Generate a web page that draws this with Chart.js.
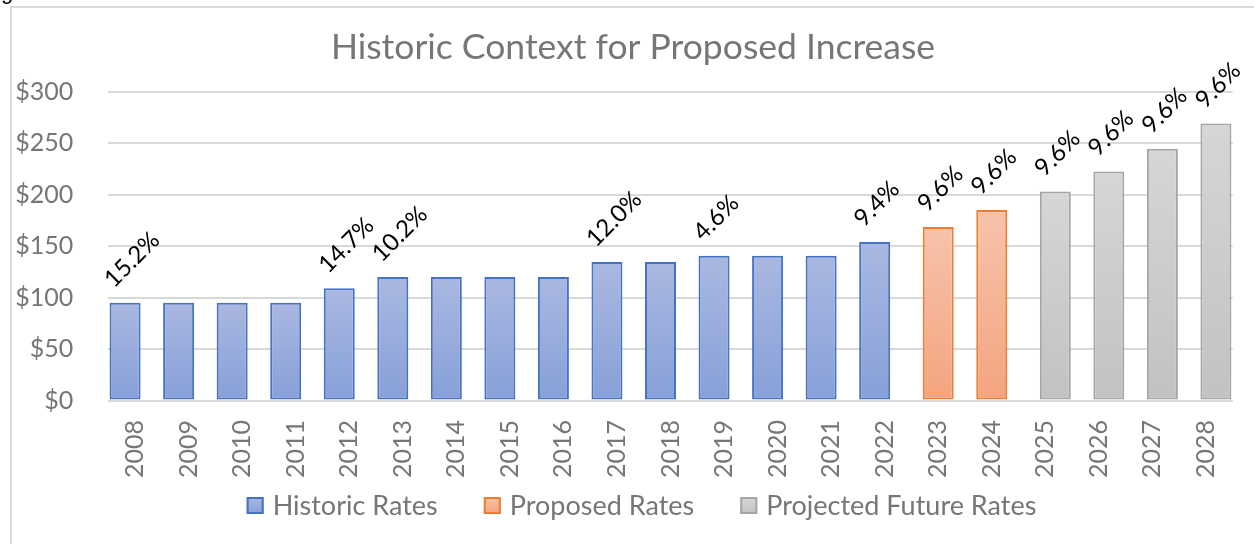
<!DOCTYPE html>
<html><head><meta charset="utf-8">
<script src="https://cdn.jsdelivr.net/npm/chart.js@4.4.0/dist/chart.umd.min.js"></script>
<style>html,body{margin:0;padding:0;background:#fff;overflow:hidden}#wrap{position:absolute;left:0;top:0;width:1254px;height:544px}</style>
</head><body><div id="wrap"><canvas id="c" width="1254" height="544"></canvas></div>
<script>
const years = ['2008','2009','2010','2011','2012','2013','2014','2015','2016','2017','2018','2019','2020','2021','2022','2023','2024','2025','2026','2027','2028'];
const historicRates = [95,95,95,95,109,120,120,120,120,134.5,134.5,140.5,140.5,140.5,154,null,null,null,null,null,null];
const proposedRates = [null,null,null,null,null,null,null,null,null,null,null,null,null,null,null,168.5,185,null,null,null,null];
const projectedRates = [null,null,null,null,null,null,null,null,null,null,null,null,null,null,null,null,null,203,222.5,244.5,269];
const increaseLabels = ['15.2%','','','','14.7%','10.2%','','','','12.0%','','4.6%','','','9.4%','9.6%','9.6%','9.6%','9.6%','9.6%','9.6%'];
const seriesNames = ['Historic Rates','Proposed Rates','Projected Future Rates'];
const yMax = 300, yStep = 50;

const palette = [
  {top:'#aab8e1', bottom:'#87a0d8', border:'#4472c4'},
  {top:'#f6c3ab', bottom:'#f4a47f', border:'#ed7d31'},
  {top:'#d6d6d6', bottom:'#c2c2c2', border:'#a5a5a5'}
];
const TXT = '#767676';
const FONT = 'Lato';

function barFill(p){
  return (c) => {
    const chart = c.chart, area = chart.chartArea;
    if (!area || c.raw == null || !chart.scales.y) return p.bottom;
    const ys = chart.scales.y;
    const y0 = ys.getPixelForValue(c.raw), y1 = ys.getPixelForValue(0);
    const g = chart.ctx.createLinearGradient(0, y0, 0, y1);
    g.addColorStop(0, p.top); g.addColorStop(1, p.bottom);
    return g;
  };
}

const frame = {
  id:'frame',
  beforeDraw(chart){
    const ctx = chart.ctx;
    ctx.save();
    ctx.fillStyle = '#fff'; ctx.fillRect(0,0,chart.width,chart.height);
    ctx.strokeStyle = '#d9d9d9'; ctx.lineWidth = 2;
    ctx.beginPath(); ctx.moveTo(11, chart.height+2); ctx.lineTo(11, 7); ctx.lineTo(chart.width+2, 7); ctx.stroke();
    ctx.fillStyle = '#000'; ctx.font = '22px "Liberation Sans"'; ctx.textBaseline = 'alphabetic';
    ctx.fillText('g', 1, -1);
    ctx.restore();
  }
};

const valueLabels = {
  id:'valueLabels',
  afterDatasetsDraw(chart){
    const ctx = chart.ctx;
    ctx.save();
    ctx.font = '24px ' + FONT; ctx.fillStyle = '#000';
    ctx.textAlign = 'left'; ctx.textBaseline = 'alphabetic';
    chart.data.datasets.forEach((ds, i) => {
      const meta = chart.getDatasetMeta(i);
      meta.data.forEach((el, j) => {
        if (ds.data[j] == null || !increaseLabels[j]) return;
        ctx.save();
        ctx.translate(el.x - 11, el.y - 14);
        ctx.rotate(-Math.PI/4);
        ctx.fillText(increaseLabels[j], 0, 0);
        ctx.restore();
      });
    });
    ctx.restore();
  }
};

const customLegend = {
  id:'customLegend',
  afterDraw(chart){
    const ctx = chart.ctx;
    ctx.save();
    ctx.font = '27px ' + FONT;
    const box = 17, gapText = 9, gapItem = 46, cy = 505.5, cx = 641.5;
    const widths = seriesNames.map(t => ctx.measureText(t).width);
    let total = widths.reduce((a,w)=>a+box+gapText+w,0) + gapItem*(seriesNames.length-1);
    let x = cx - total/2;
    seriesNames.forEach((t,i) => {
      const p = palette[i];
      const g = ctx.createLinearGradient(0, cy-box/2, 0, cy+box/2);
      g.addColorStop(0,p.top); g.addColorStop(1,p.bottom);
      ctx.fillStyle = g; ctx.fillRect(x, cy-box/2, box, box);
      ctx.strokeStyle = p.border; ctx.lineWidth = 2;
      ctx.strokeRect(x+1, cy-box/2+1, box-2, box-2);
      ctx.fillStyle = TXT; ctx.textBaseline = 'middle'; ctx.textAlign = 'left';
      ctx.fillText(t, x+box+gapText, cy+1);
      x += box + gapText + widths[i] + gapItem;
    });
    ctx.restore();
  }
};

const seriesData = [historicRates, proposedRates, projectedRates];
new Chart(document.getElementById('c'), {
  type:'bar',
  data:{
    labels: years,
    datasets: seriesData.map((d,i) => ({
      label: seriesNames[i],
      data: d,
      yAxisID: 'y',
      backgroundColor: barFill(palette[i]),
      borderColor: palette[i].border,
      borderWidth: 2,
      borderSkipped: false,
      categoryPercentage: 0.5603,
      barPercentage: 3.1
    }))
  },
  options:{
    responsive:false,
    animation:false,
    devicePixelRatio:1,
    layout:{padding:{left:12, right:0, top:6, bottom:63.5}},
    plugins:{
      legend:{display:false},
      tooltip:{enabled:false},
      title:{display:true, text:'Historic Context for Proposed Increase', color:TXT,
        font:{family:FONT, size:35.5, weight:'normal'}, padding:{top:20, bottom:23}}
    },
    scales:{
      x:{
        grid:{display:false},
        border:{display:false},
        ticks:{color:TXT, font:{family:FONT, size:25}, minRotation:90, maxRotation:90, autoSkip:false, padding:11.5},
        afterFit(s){ s.height = 80; }
      },
      y:{
        position:'left',
        min:0, max:yMax,
        grid:{color:'#d9d9d9', lineWidth:2, drawTicks:false},
        border:{display:false},
        ticks:{stepSize:yStep, color:TXT, font:{family:FONT, size:25}, padding:35, callback:v => '$' + v},
        afterFit(s){ s.width = 96.3; }
      },
      yRight:{
        position:'right',
        min:0, max:yMax,
        grid:{display:false, drawTicks:false},
        border:{display:false},
        ticks:{display:false},
        afterFit(s){ s.width = 21.3; }
      }
    }
  },
  plugins:[frame, valueLabels, customLegend]
});
</script></body></html>
